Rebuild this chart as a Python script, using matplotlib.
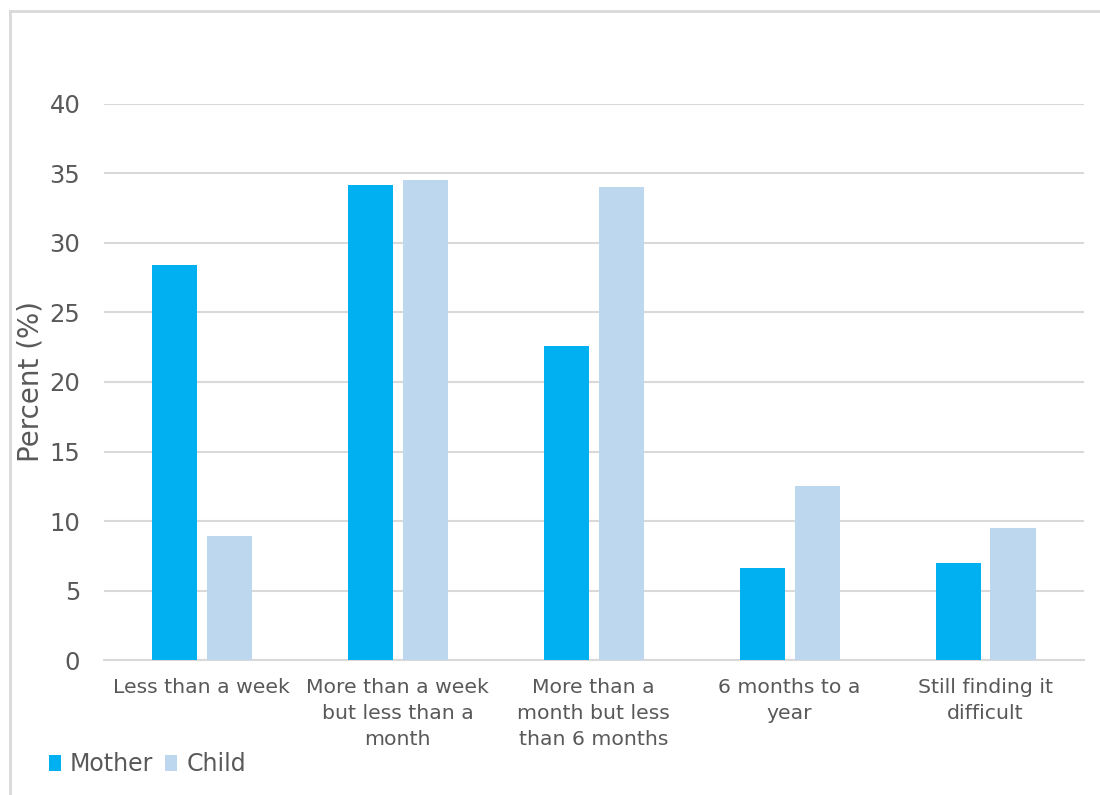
import matplotlib
matplotlib.use("Agg")
import matplotlib.pyplot as plt
import numpy as np
from matplotlib.lines import Line2D

categories = ["Less than a week",
              "More than a week\nbut less than a\nmonth",
              "More than a\nmonth but less\nthan 6 months",
              "6 months to a\nyear",
              "Still finding it\ndifficult"]
mother = [28.4, 34.2, 22.6, 6.6, 7.0]
child = [8.9, 34.5, 34.0, 12.5, 9.5]

mother_color = "#00B0F0"
child_color = "#BDD7EE"
text_color = "#595959"
grid_color = "#D9D9D9"

plt.rcParams["font.family"] = ["DejaVu Sans"]

fig = plt.figure(figsize=(11, 7.95), dpi=100)
ax = fig.add_axes([0.0945, 0.1698, 0.8905, 0.6994])

x = np.arange(len(categories))
w = 0.23
off = 0.14
ax.bar(x - off, mother, w, color=mother_color, label="Mother", zorder=3)
ax.bar(x + off, child, w, color=child_color, label="Child", zorder=3)

ax.set_xlim(-0.5, len(categories) - 0.5)
ax.set_ylim(0, 40)
ax.set_yticks(range(0, 41, 5))
ax.yaxis.grid(True, color=grid_color, linewidth=1.5, zorder=0)
ax.set_axisbelow(True)
for s in ["top", "right", "left"]:
    ax.spines[s].set_visible(False)
ax.spines["bottom"].set_color(grid_color)
ax.spines["bottom"].set_linewidth(1.5)
ax.tick_params(axis="both", length=0, colors=text_color)
ax.tick_params(axis="y", pad=17, labelsize=17.5)
ax.tick_params(axis="x", pad=13)
ax.set_xticks(x)
ax.set_xticklabels(categories, linespacing=1.45, fontsize=14.7)
ax.set_ylabel("Percent (%)", color=text_color, fontsize=20)
ax.yaxis.set_label_coords(-0.061, 0.5)

fig.legend(loc="center left", bbox_to_anchor=(0.025, 1 - 764 / 795), ncol=2,
           frameon=False, fontsize=17, handlelength=0.5, handleheight=0.65,
           handletextpad=0.4, columnspacing=0.5, labelcolor=text_color)

# outer chart frame (only top and left edges fall inside the canvas)
fx = 10 / 1100
fy = 1 - 11 / 795
fig.add_artist(Line2D([fx, fx], [0, fy], transform=fig.transFigure,
                      color=grid_color, linewidth=2))
fig.add_artist(Line2D([fx, 1], [fy, fy], transform=fig.transFigure,
                      color=grid_color, linewidth=2))

fig.savefig("out.png", dpi=100)
